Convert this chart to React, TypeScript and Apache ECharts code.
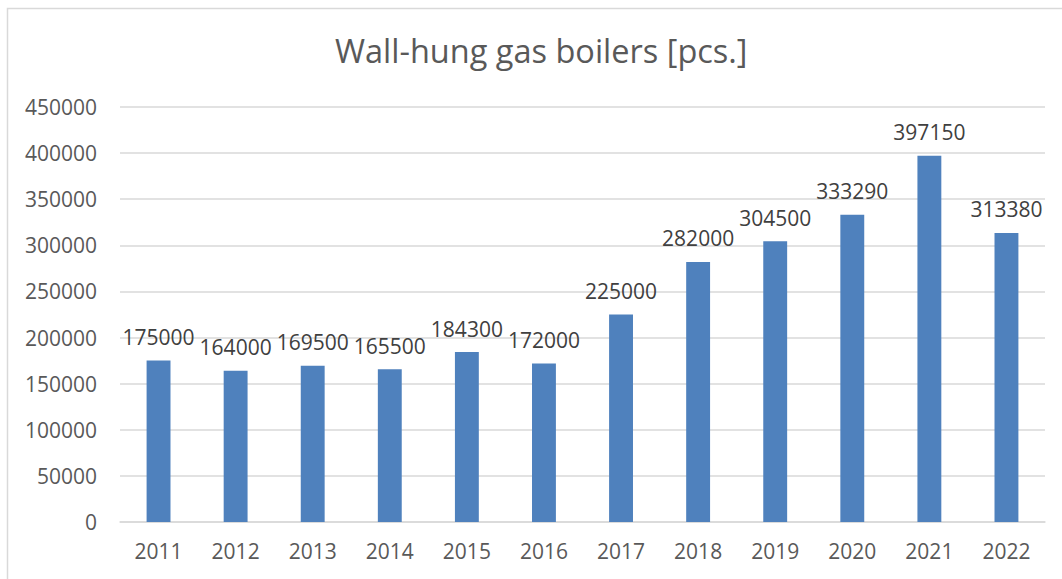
import React, { useEffect, useRef } from "react";
import * as echarts from "echarts";

const categories = ["2011", "2012", "2013", "2014", "2015", "2016", "2017", "2018", "2019", "2020", "2021", "2022"];
const values = [175000, 164000, 169500, 165500, 184300, 172000, 225000, 282000, 304500, 333290, 397150, 313380];
const title = "Wall-hung gas boilers [pcs.]";

export default function App() {
  const ref = useRef<HTMLDivElement>(null);
  useEffect(() => {
    if (!ref.current) return;
    const chart = echarts.init(ref.current, undefined, { renderer: "svg" });
    chart.setOption({
      animation: false,
      backgroundColor: "#ffffff",
      textStyle: { fontFamily: "Open Sans" },
      title: {
        text: title,
        left: 330,
        top: 29,
        textStyle: { fontFamily: "Open Sans", fontSize: 32.5, fontWeight: "normal", color: "#595959" },
      },
      graphic: [
        {
          type: "rect",
          shape: { x: 7.5, y: 8.5, width: 1100, height: 600 },
          style: { fill: "none", stroke: "#d9d9d9", lineWidth: 1.5 },
          silent: true,
        },
      ],
      grid: { left: 120, right: 17, top: 107, bottom: 57 },
      xAxis: {
        type: "category",
        data: categories,
        axisLine: { lineStyle: { color: "#d9d9d9", width: 1.5 } },
        axisTick: { show: false },
        axisLabel: { color: "#595959", fontSize: 21, margin: 18, fontFamily: "Open Sans" },
      },
      yAxis: {
        type: "value",
        min: 0,
        max: 450000,
        interval: 50000,
        axisLine: { show: false },
        axisTick: { show: false },
        axisLabel: {
          color: "#595959",
          fontSize: 21,
          margin: 23,
          fontFamily: "Open Sans",
          formatter: (v: number) => String(v),
        },
        splitLine: { lineStyle: { color: "#d9d9d9", width: 1.5 } },
      },
      series: [
        {
          type: "bar",
          data: values,
          barWidth: "31%",
          itemStyle: { color: "#4f81bd" },
          label: {
            show: true,
            position: "top",
            distance: 13,
            color: "#404040",
            fontSize: 21,
            fontFamily: "Open Sans",
          },
        },
      ],
    });
    return () => chart.dispose();
  }, []);
  return <div ref={ref} style={{ position: "absolute", left: 0, top: 0, width: 1062, height: 579 }} />;
}
